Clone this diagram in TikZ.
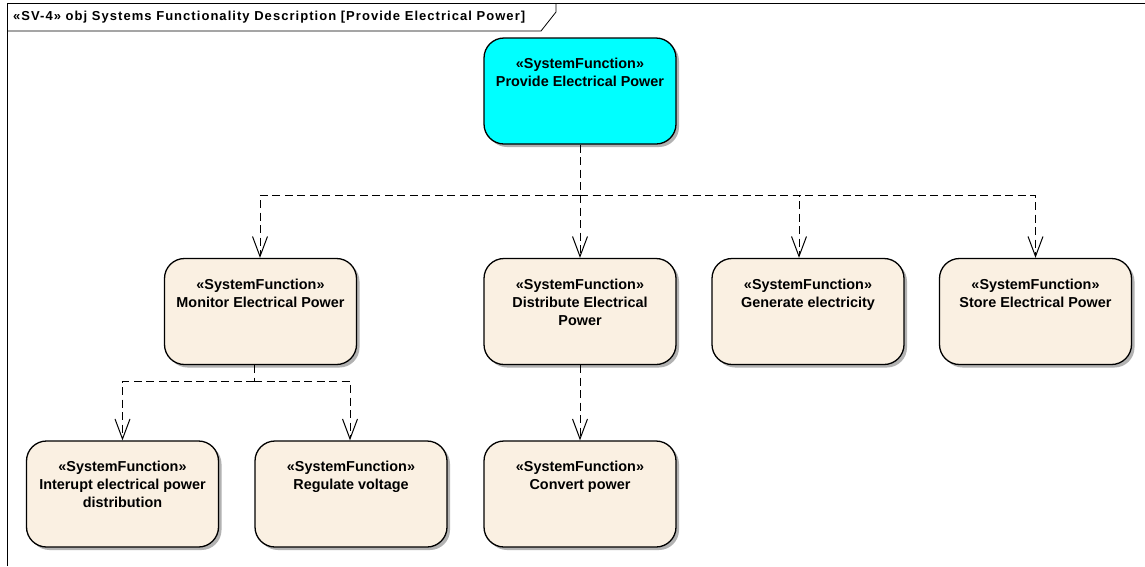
\documentclass[tikz,border=0pt]{standalone}
\usepackage{fontspec}
\setmainfont{Liberation Sans}
\newfontfamily\titlefont[LetterSpace=8]{Liberation Sans}
\usetikzlibrary{arrows.meta,shadows}
\definecolor{cream}{RGB}{250,240,226}
\definecolor{aqua}{RGB}{0,255,255}
\tikzset{
  fbox/.style={draw=black, line width=1.3pt, rounded corners=20pt, fill=cream,
    minimum width=192pt, minimum height=106pt, inner sep=0pt,
    drop shadow={shadow xshift=3pt, shadow yshift=-3pt, fill=black!30, opacity=1}},
  ftext/.style={anchor=north, align=center, font=\bfseries\fontsize{14.4}{18}\selectfont, inner sep=0pt},
  dep/.style={draw=black, line width=1pt, dash pattern=on 8pt off 4.5pt,
    -{Straight Barb[length=20pt, width=15pt, line width=1pt]}},
  depl/.style={draw=black, line width=1pt, dash pattern=on 8pt off 4.5pt},
}
\begin{document}
\begin{tikzpicture}[x=1pt, y=-1pt]
\useasboundingbox (0,0) rectangle (1145,566);
\fill[white] (0,0) rectangle (1145,566);
% frame
\draw[line width=0.8pt] (7,566) -- (7,3) -- (1145,3);
\draw[line width=0.8pt] (7,31) -- (541,31) -- (556,12) -- (556,3);
\node[anchor=west, inner sep=0pt, font=\titlefont\bfseries\fontsize{13}{15}\selectfont] (title) at (13,17) {«SV-4» obj Systems Functionality Description [Provide Electrical Power]};
% nodes
\node[fbox, fill=aqua] (pep) at (580,91) {};
\node[fbox] (mon) at (260.5,311.5) {};
\node[fbox] (dis) at (580,311.5) {};
\node[fbox] (gen) at (808,311.5) {};
\node[fbox] (sto) at (1035.5,311.5) {};
\node[fbox] (int) at (122.5,494) {};
\node[fbox] (reg) at (351,494) {};
\node[fbox] (con) at (580,494) {};
% texts
\node[ftext] (tpep) at ([yshift=-21pt]pep.north) {«SystemFunction»\\Provide Electrical Power};
\node[ftext] (tmon) at ([yshift=-21pt]mon.north) {«SystemFunction»\\Monitor Electrical Power};
\node[ftext] (tdis) at ([yshift=-21pt]dis.north) {«SystemFunction»\\Distribute Electrical\\Power};
\node[ftext] (tgen) at ([yshift=-21pt]gen.north) {«SystemFunction»\\Generate electricity};
\node[ftext] (tsto) at ([yshift=-21pt]sto.north) {«SystemFunction»\\Store Electrical Power};
\node[ftext] (tint) at ([yshift=-21pt]int.north) {«SystemFunction»\\Interupt electrical power\\distribution};
\node[ftext] (treg) at ([yshift=-21pt]reg.north) {«SystemFunction»\\Regulate voltage};
\node[ftext] (tcon) at ([yshift=-21pt]con.north) {«SystemFunction»\\Convert power};
% connectors
\coordinate (j1) at (580,195);
\coordinate (j2) at (254,381);
\draw[depl] (pep.south) -- (j1);
\draw[dep] (j1) -| ([xshift=-0.5pt]mon.north);
\draw[dep] (j1) -- (dis.north);
\draw[dep] (j1) -| ([xshift=-9pt]gen.north);
\draw[dep] (j1) -| (sto.north);
\draw[depl] (mon.south -| j2) -- (j2);
\draw[dep] (j2) -| (int.north);
\draw[dep] (j2) -| ([xshift=-1pt]reg.north);
\draw[dep] (dis.south) -- (con.north);
\end{tikzpicture}
\end{document}
